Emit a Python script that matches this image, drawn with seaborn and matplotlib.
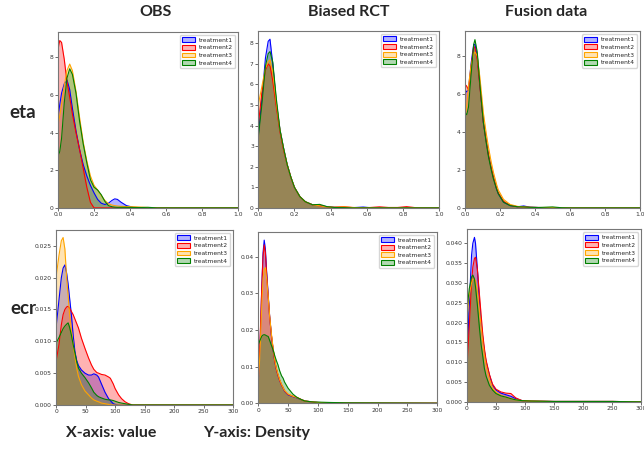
import numpy as np
import pandas as pd
import matplotlib
matplotlib.use("Agg")
import matplotlib.pyplot as plt
from matplotlib.patches import Patch
import seaborn as sns

# ---------------- data ----------------
TREATMENTS = ["treatment1", "treatment2", "treatment3", "treatment4"]
COLORS = ["blue", "red", "orange", "green"]
COL_TITLES = ["OBS", "Biased RCT", "Fusion data"]
ROW_TITLES = ["eta", "ecr"]

# eta / OBS
ETA_OBS_X = [0, 0.01, 0.02, 0.035, 0.05, 0.065, 0.08, 0.1, 0.12, 0.14, 0.16, 0.18, 0.2, 0.22,
             0.24, 0.26, 0.28, 0.3, 0.315, 0.33, 0.35, 0.38, 0.42, 0.46, 0.5, 0.55, 1.0]
ETA_OBS_T1 = [4.8, 5.5, 6.1, 6.6, 6.8, 6.3, 5.3, 4.1, 3.1, 2.3, 1.7, 1.2, 0.8, 0.45,
              0.25, 0.18, 0.25, 0.4, 0.48, 0.45, 0.3, 0.12, 0.03, 0.01, 0, 0, 0]
ETA_OBS_T2 = [8.4, 8.9, 8.8, 7.9, 6.7, 5.9, 5.0, 4.0, 3.1, 2.1, 1.1, 0.3, 0, 0,
              0, 0, 0, 0, 0, 0, 0, 0, 0, 0, 0, 0, 0]
ETA_OBS_T3 = [4.4, 4.9, 5.5, 6.5, 7.3, 7.65, 7.3, 6.2, 4.8, 3.5, 2.5, 1.7, 1.2, 0.95,
              0.65, 0.4, 0.22, 0.15, 0.12, 0.1, 0.08, 0.07, 0.06, 0.04, 0.02, 0, 0]
ETA_OBS_T4 = [2.75, 3.0, 3.7, 5.6, 6.9, 7.4, 7.1, 6.1, 4.6, 3.4, 2.4, 1.5, 1.1, 0.95,
              0.7, 0.35, 0.12, 0.06, 0.04, 0.03, 0.03, 0.03, 0.02, 0.02, 0.03, 0, 0]

# eta / Biased RCT
ETA_RCT_X = [0, 0.02, 0.04, 0.055, 0.065, 0.08, 0.1, 0.12, 0.14, 0.16, 0.18, 0.2, 0.23, 0.26,
             0.3, 0.34, 0.38, 0.42, 0.47, 0.52, 0.58, 0.62, 0.67, 0.72, 0.77, 0.82, 0.88, 1.0]
ETA_RCT_T1 = [3.5, 5.3, 7.3, 8.1, 8.2, 7.0, 5.1, 3.8, 2.9, 2.1, 1.5, 1.0, 0.55, 0.3,
              0.15, 0.12, 0.06, 0.03, 0.02, 0.01, 0.04, 0.01, 0, 0, 0, 0, 0, 0]
ETA_RCT_T2 = [4.0, 5.6, 6.7, 7.0, 6.9, 6.2, 4.9, 3.7, 2.8, 2.1, 1.5, 1.0, 0.55, 0.3,
              0.15, 0.1, 0.05, 0.03, 0.06, 0.02, 0.01, 0.02, 0.05, 0.02, 0.02, 0.06, 0, 0]
ETA_RCT_T3 = [5.0, 5.9, 6.8, 7.1, 7.2, 6.6, 5.1, 3.8, 2.9, 2.1, 1.5, 1.0, 0.55, 0.3,
              0.15, 0.1, 0.05, 0.03, 0.05, 0.02, 0, 0, 0, 0, 0, 0, 0, 0]
ETA_RCT_T4 = [3.4, 5.0, 6.9, 7.5, 7.6, 7.1, 5.3, 3.8, 2.9, 2.1, 1.5, 1.0, 0.55, 0.3,
              0.15, 0.17, 0.06, 0.02, 0.01, 0, 0, 0, 0, 0, 0, 0, 0, 0]

# eta / Fusion data
ETA_FUS_X = [0, 0.01, 0.02, 0.035, 0.05, 0.057, 0.07, 0.086, 0.105, 0.12, 0.134, 0.15, 0.163,
             0.18, 0.19, 0.22, 0.258, 0.3, 0.335, 0.37, 0.42, 0.5, 0.55, 0.6, 1.0]
ETA_FUS_T1 = [6.2, 6.1, 6.2, 7.6, 8.6, 8.6, 8.0, 6.4, 4.5, 3.6, 2.8, 2.1, 1.6,
              1.0, 0.75, 0.3, 0.12, 0.06, 0.1, 0.04, 0.02, 0.01, 0, 0, 0]
ETA_FUS_T2 = [6.5, 6.4, 6.2, 7.4, 8.5, 8.4, 7.8, 6.3, 4.5, 3.6, 2.8, 2.1, 1.6,
              1.05, 0.8, 0.35, 0.14, 0.06, 0.05, 0.03, 0.02, 0.01, 0, 0, 0]
ETA_FUS_T3 = [4.6, 5.4, 6.4, 7.5, 8.1, 8.2, 8.0, 6.8, 5.0, 4.0, 3.2, 2.4, 1.85,
              1.25, 0.95, 0.45, 0.18, 0.08, 0.05, 0.03, 0.02, 0.02, 0.01, 0, 0]
ETA_FUS_T4 = [5.0, 4.9, 5.3, 7.0, 8.6, 8.85, 8.2, 6.4, 4.5, 3.5, 2.7, 2.0, 1.5,
              1.0, 0.75, 0.3, 0.12, 0.06, 0.05, 0.03, 0.02, 0.05, 0.01, 0, 0]

# ecr / OBS
ECR_OBS_X = [0, 5, 9, 12, 15, 18, 20.5, 23, 26, 29, 32, 35, 38, 43, 49, 55, 60, 64, 69, 72,
             77, 83, 89, 92, 97, 100, 106, 111, 117, 123, 130, 300]
ECR_OBS_T1 = [0.0121, 0.0165, 0.0200, 0.0215, 0.0220, 0.0207, 0.0190, 0.0168, 0.0142, 0.0110,
              0.0084, 0.0070, 0.0062, 0.0055, 0.0050, 0.0047, 0.0047, 0.0049, 0.0047, 0.0044,
              0.0033, 0.0020, 0.0010, 0.0007, 0.0002, 0.0001, 0, 0, 0, 0, 0, 0]
ECR_OBS_T2 = [0.0068, 0.0095, 0.0126, 0.0142, 0.0150, 0.0154, 0.0155, 0.0152, 0.0147, 0.0142,
              0.0135, 0.0128, 0.0121, 0.0105, 0.0089, 0.0074, 0.0063, 0.0056, 0.0051, 0.0050,
              0.0048, 0.0047, 0.0044, 0.0042, 0.0033, 0.0026, 0.0016, 0.0010, 0.0005, 0.0002, 0, 0]
ECR_OBS_T3 = [0.0200, 0.0235, 0.0258, 0.0263, 0.0245, 0.0200, 0.0172, 0.0142, 0.0118, 0.0095,
              0.0076, 0.0058, 0.0045, 0.0032, 0.0022, 0.0016, 0.0011, 0.0008, 0.0006, 0.0005,
              0.0003, 0.0002, 0.0001, 0, 0, 0, 0, 0, 0, 0, 0, 0]
ECR_OBS_T4 = [0.0097, 0.0106, 0.0114, 0.0120, 0.0124, 0.0127, 0.0129, 0.0122, 0.0110, 0.0095,
              0.0082, 0.0068, 0.0058, 0.0050, 0.0043, 0.0035, 0.0027, 0.0020, 0.0015, 0.0013,
              0.0011, 0.0009, 0.0008, 0.0008, 0.0007, 0.0006, 0.0004, 0.0003, 0.0002, 0.0001, 0, 0]

# ecr / Biased RCT
ECR_RCT_X = [0, 3, 6, 8, 10, 12, 14, 16.7, 19, 22, 25, 27.8, 30, 33, 36, 39, 41.7, 44, 50, 58,
             64, 67, 72, 78, 83, 94, 100, 120, 150, 300]
ECR_RCT_T1 = [0.005, 0.016, 0.032, 0.041, 0.0445, 0.042, 0.036, 0.0295, 0.024, 0.0186, 0.0145,
              0.0114, 0.0095, 0.0077, 0.0062, 0.005, 0.0042, 0.0033, 0.0023, 0.0018, 0.0015,
              0.0013, 0.001, 0.0006, 0.0005, 0.0003, 0.0002, 0.0001, 0.00005, 0]
ECR_RCT_T2 = [0.006, 0.017, 0.032, 0.040, 0.0432, 0.041, 0.0355, 0.029, 0.0238, 0.0186, 0.0145,
              0.0114, 0.0095, 0.0077, 0.0062, 0.005, 0.0042, 0.0034, 0.0024, 0.0019, 0.0016,
              0.0014, 0.001, 0.0006, 0.0005, 0.0003, 0.0002, 0.0001, 0.00005, 0]
ECR_RCT_T3 = [0.005, 0.014, 0.027, 0.034, 0.0365, 0.037, 0.034, 0.029, 0.024, 0.019, 0.015,
              0.0118, 0.0098, 0.008, 0.0064, 0.0052, 0.0043, 0.0035, 0.0025, 0.0019, 0.0016,
              0.0014, 0.001, 0.0006, 0.0005, 0.0003, 0.0002, 0.0001, 0.00005, 0]
ECR_RCT_T4 = [0.0159, 0.0172, 0.0183, 0.0186, 0.0187, 0.0186, 0.0184, 0.0182, 0.0172, 0.0158,
              0.0145, 0.0129, 0.0118, 0.0105, 0.0088, 0.0075, 0.0068, 0.0058, 0.0041, 0.0025,
              0.0017, 0.0014, 0.001, 0.0006, 0.0005, 0.0003, 0.0003, 0.0002, 0.0001, 0]

# ecr / Fusion data
ECR_FUS_X = [0, 4, 8, 10.2, 13, 14.8, 18, 21.6, 24.4, 27.3, 30, 33, 38.6, 44, 50, 58.5, 67,
             75.6, 84, 95, 110, 150, 250, 300]
ECR_FUS_T1 = [0.010, 0.024, 0.037, 0.040, 0.0415, 0.040, 0.0335, 0.0253, 0.020, 0.016, 0.0128,
              0.0101, 0.0068, 0.0042, 0.003, 0.0022, 0.0018, 0.0014, 0.0008, 0.0003, 0.0002,
              0.0001, 0.0001, 0]
ECR_FUS_T2 = [0.0084, 0.019, 0.030, 0.034, 0.0362, 0.0365, 0.0335, 0.027, 0.022, 0.017, 0.0135,
              0.0105, 0.007, 0.0045, 0.0032, 0.0025, 0.0022, 0.0021, 0.001, 0.0003, 0.0002,
              0.0001, 0.0001, 0]
ECR_FUS_T3 = [0.021, 0.027, 0.030, 0.031, 0.031, 0.0305, 0.028, 0.023, 0.019, 0.015, 0.0118,
              0.0092, 0.0058, 0.0036, 0.0024, 0.0016, 0.0012, 0.0008, 0.0005, 0.0003, 0.0002,
              0.0001, 0.0001, 0]
ECR_FUS_T4 = [0.0228, 0.0285, 0.0315, 0.032, 0.031, 0.029, 0.0245, 0.0186, 0.0145, 0.0115,
              0.0085, 0.0065, 0.0042, 0.003, 0.0021, 0.0015, 0.0012, 0.0008, 0.0005, 0.0003,
              0.0002, 0.0001, 0.0001, 0]

PANELS = [
    [(ETA_OBS_X, [ETA_OBS_T1, ETA_OBS_T2, ETA_OBS_T3, ETA_OBS_T4]),
     (ETA_RCT_X, [ETA_RCT_T1, ETA_RCT_T2, ETA_RCT_T3, ETA_RCT_T4]),
     (ETA_FUS_X, [ETA_FUS_T1, ETA_FUS_T2, ETA_FUS_T3, ETA_FUS_T4])],
    [(ECR_OBS_X, [ECR_OBS_T1, ECR_OBS_T2, ECR_OBS_T3, ECR_OBS_T4]),
     (ECR_RCT_X, [ECR_RCT_T1, ECR_RCT_T2, ECR_RCT_T3, ECR_RCT_T4]),
     (ECR_FUS_X, [ECR_FUS_T1, ECR_FUS_T2, ECR_FUS_T3, ECR_FUS_T4])],
]

# ---------------- layout ----------------
sns.set_theme(style="ticks")
plt.rcParams["font.family"] = ["DejaVu Sans"]

fig = plt.figure(figsize=(6.44, 4.49), dpi=100)

AX_RECTS = [
    [(0.090, 0.537, 0.280, 0.392), (0.401, 0.537, 0.281, 0.394), (0.722, 0.537, 0.272, 0.393)],
    [(0.087, 0.098, 0.275, 0.390), (0.401, 0.102, 0.278, 0.382), (0.725, 0.105, 0.271, 0.384)],
]
XLIMS = [(0, 1.0), (0, 300)]
XTICKS = [np.arange(0, 1.01, 0.2), np.arange(0, 301, 50)]
YLIMS = [[9.36, 8.6, 9.28], [0.0275, 0.0468, 0.0435]]
YTICKS = [[np.arange(0, 9, 2), np.arange(0, 9, 1), np.arange(0, 9, 2)],
          [np.arange(0, 0.0251, 0.005), np.arange(0, 0.041, 0.01), np.arange(0, 0.0401, 0.005)]]
YFMT = [["{:.0f}", "{:.0f}", "{:.0f}"], ["{:.3f}", "{:.2f}", "{:.3f}"]]
XFMT = ["{:.1f}", "{:.0f}"]

for r in range(2):
    for c in range(3):
        ax = fig.add_axes(AX_RECTS[r][c])
        xs, series = PANELS[r][c]
        rows = []
        for t, ys in zip(TREATMENTS, series):
            for xv, yv in zip(xs, ys):
                rows.append((t, xv, yv))
        df = pd.DataFrame(rows, columns=["treatment", "value", "Density"])
        for t, col in zip(TREATMENTS, COLORS):
            sub = df[df["treatment"] == t]
            ax.fill_between(sub["value"], 0, sub["Density"], color=col, alpha=0.3, lw=0)
        sns.lineplot(data=df, x="value", y="Density", hue="treatment", hue_order=TREATMENTS,
                     palette=COLORS, lw=0.8, sort=False, estimator=None, legend=False, ax=ax)
        ax.set_xlim(*XLIMS[r])
        ax.set_ylim(0, YLIMS[r][c])
        ax.set_xticks(XTICKS[r])
        ax.set_xticklabels([XFMT[r].format(v) for v in XTICKS[r]])
        ax.set_yticks(YTICKS[r][c])
        ax.set_yticklabels([YFMT[r][c].format(v) for v in YTICKS[r][c]])
        ax.set_xlabel("")
        ax.set_ylabel("")
        ax.tick_params(labelsize=4.3, length=2, width=0.5, pad=1.2, colors="#333333")
        for s in ax.spines.values():
            s.set_visible(True)
            s.set_linewidth(0.8)
            s.set_color("#777777")
        handles = [Patch(facecolor=matplotlib.colors.to_rgba(col, 0.3), edgecolor=col, lw=0.8)
                   for col in COLORS]
        ax.legend(handles, TREATMENTS, loc="upper right", fontsize=4.3, frameon=True,
                  handlelength=2.2, handleheight=0.9, borderpad=0.4, labelspacing=0.35,
                  handletextpad=0.6, fancybox=True, framealpha=0.8, edgecolor="#cccccc")

TITLE_FONT = ["Lato", "Open Sans", "DejaVu Sans"]
for x, t in zip([156, 349, 546], COL_TITLES):
    fig.text(x / 644, 1 - 12 / 449, t, ha="center", va="center", fontsize=11.5,
             fontweight="bold", family=TITLE_FONT)
for y, t in zip([113, 308], ROW_TITLES):
    fig.text(23 / 644, 1 - y / 449, t, ha="center", va="center", fontsize=13.5,
             fontweight="bold", family=TITLE_FONT)
fig.text(111 / 644, 1 - 433 / 449, "X-axis: value", ha="center", va="center", fontsize=11.5,
         fontweight="bold", family=TITLE_FONT)
fig.text(257 / 644, 1 - 433 / 449, "Y-axis: Density", ha="center", va="center", fontsize=11.5,
         fontweight="bold", family=TITLE_FONT)

fig.savefig("out.png", dpi=100)
